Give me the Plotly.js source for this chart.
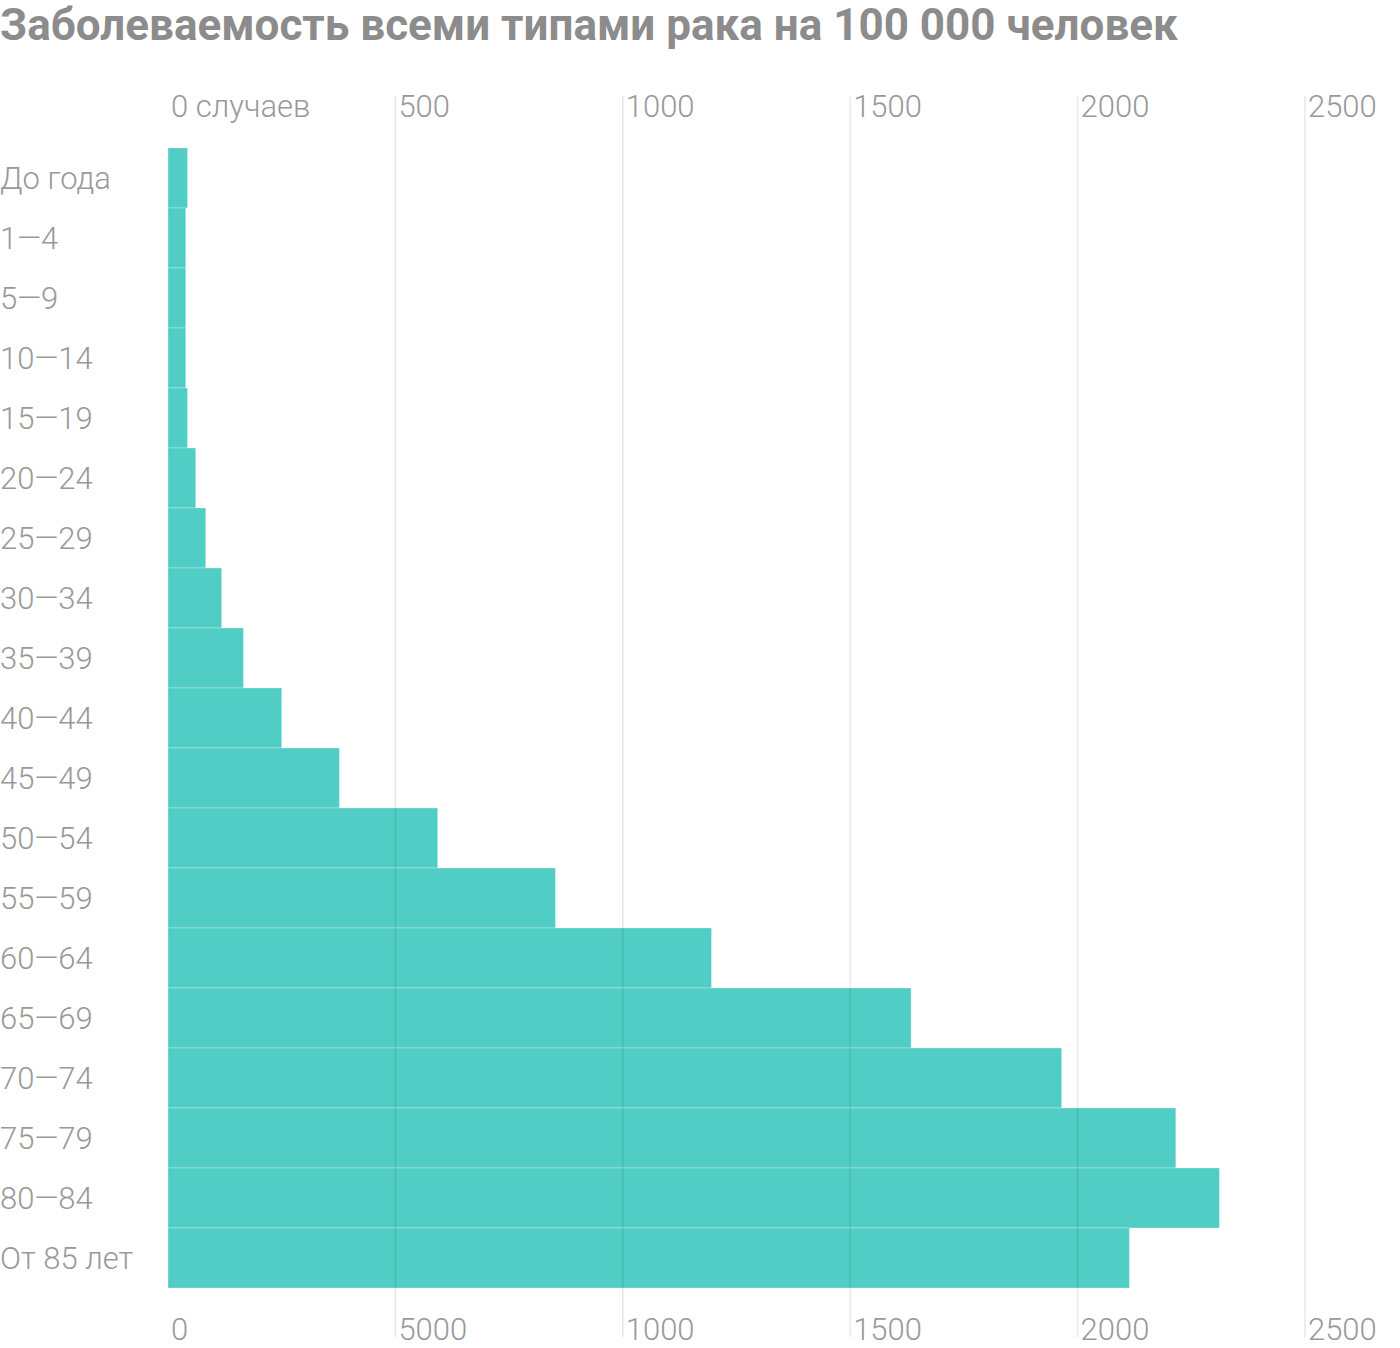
<!DOCTYPE html>
<html>
<head>
<meta charset="utf-8">
<script src="https://cdn.plot.ly/plotly-3.0.1.min.js"></script>
<style>html,body{margin:0;padding:0;background:#fff;}</style>
</head>
<body>
<div id="chart" style="width:1400px;height:1348px;"></div>
<script>
const categories = ["До года","1—4","5—9","10—14","15—19","20—24","25—29","30—34","35—39","40—44","45—49","50—54","55—59","60—64","65—69","70—74","75—79","80—84","От 85 лет"];
const values = [43,39,39,39,43,61,83,118,166,250,377,593,852,1195,1634,1965,2216,2312,2114];
const tickVals = [0,500,1000,1500,2000,2500];
const topTickText = ["0 случаев","500","1000","1500","2000","2500"];
const bottomTickText = ["0","5000","1000","1500","2000","2500"];
const gridVals = [500,1000,1500,2000,2500];

const labelFont = {family:"Roboto", size:31, color:"#999999", weight:300};
const catFont = {family:"Roboto", size:31, color:"#999999", weight:300};

const trace = {
  type:"bar", orientation:"h",
  y: categories, x: values,
  marker:{color:"#50CDC4", line:{color:"rgba(255,255,255,0.3)", width:1}},
  hoverinfo:"none"
};
const trace2 = {
  type:"scatter", mode:"markers", xaxis:"x2", yaxis:"y",
  y: categories, x: values,
  marker:{opacity:0, size:1}, hoverinfo:"none"
};

const shapes = gridVals.map(v => ({
  type:"line", xref:"x", yref:"paper", x0:v, x1:v, y0:-0.043, y1:1.0456,
  layer:"above", line:{color:"rgba(0,0,0,0.09)", width:1.5}
}));

const annotations = categories.map(c => ({
  text:c, xref:"paper", x:-170/1232, xanchor:"left", yref:"y", y:c, yanchor:"middle",
  showarrow:false, font:catFont, align:"left"
}));

const layout = {
  width:1400, height:1348,
  margin:{l:168, r:0, t:148, b:60},
  paper_bgcolor:"#fff", plot_bgcolor:"rgba(0,0,0,0)",
  showlegend:false,
  bargap:0,
  title:{text:"Заболеваемость всеми типами рака на 100 000 человек", x:0, xref:"container", xanchor:"left",
         y:1-25/1348, yref:"container", yanchor:"middle",
         font:{family:"Roboto", size:44, color:"#8c8c8c", weight:700}},
  xaxis:{side:"top", range:[0,2709], tickvals:tickVals, ticktext:topTickText, showgrid:false, zeroline:false,
         ticks:"", ticklabelposition:"outside right", tickfont:labelFont, showline:false, fixedrange:true,
         ticklabelstandoff:24, ticklabelshift:3, automargin:false},
  xaxis2:{overlaying:"x", side:"bottom", range:[0,2709], tickvals:tickVals, ticktext:bottomTickText, showgrid:false, zeroline:false,
         ticks:"", ticklabelposition:"outside right", tickfont:labelFont, showline:false, fixedrange:true,
         ticklabelstandoff:20, ticklabelshift:3, automargin:false},
  yaxis:{range:[18.5,-0.5], showticklabels:false, showgrid:false, zeroline:false, ticks:"", fixedrange:true, automargin:false},
  shapes:shapes,
  annotations:annotations
};

Plotly.newPlot("chart",[trace, trace2],layout,{displayModeBar:false, staticPlot:true});
</script>
</body>
</html>
